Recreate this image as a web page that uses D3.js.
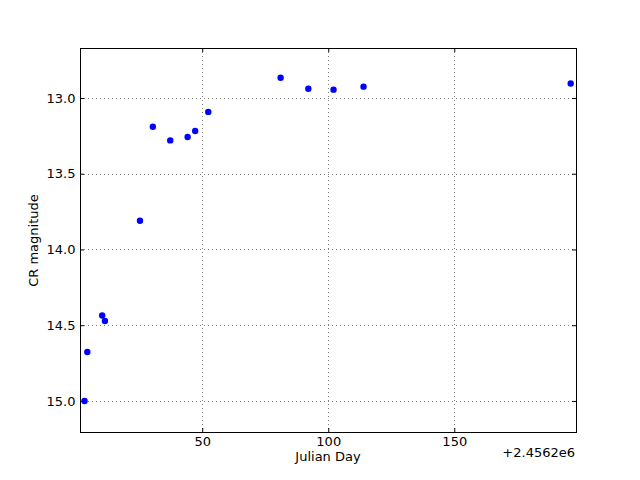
<!DOCTYPE html>
<html><head><meta charset="utf-8">
<script src="https://cdn.jsdelivr.net/npm/d3@7"></script>
<style>body{margin:0;background:#fff}svg{display:block}text{font-family:"DejaVu Sans",sans-serif}</style>
</head><body>
<svg id="c" width="640" height="480"></svg>
<script>
const julianDay = [3.3, 4.4, 10.3, 11.4, 25.3, 30.4, 37.3, 44.2, 47.2, 52.4, 81.1, 92.1, 102.1, 114.0, 196.2];
const crMag = [15.0, 14.677, 14.436, 14.472, 13.81, 13.19, 13.28, 13.258, 13.218, 13.092, 12.866, 12.939, 12.945, 12.925, 12.904];
const xTicks = [50, 100, 150];
const yTicks = [13.0, 13.5, 14.0, 14.5, 15.0];
const xOffsetLabel = "+2.4562e6";

const FS = 13;
const svg = d3.select("#c");
const L = 80, R = 576, T = 48, B = 432;
const x = d3.scaleLinear().domain([1.5, 198.3]).range([L, R]);
const y = d3.scaleLinear().domain([12.67, 15.205]).range([T, B]);

svg.append("rect").attr("width",640).attr("height",480).attr("fill","#fff");

// grid
const g = svg.append("g").attr("stroke","#7f7f7f").attr("stroke-width",1).attr("stroke-dasharray","1,3");
xTicks.forEach(v=>{ const px=Math.round(x(v))+0.5; g.append("line").attr("x1",px).attr("x2",px).attr("y1",T).attr("y2",B); });
yTicks.forEach(v=>{ const py=Math.round(y(v))+0.5; g.append("line").attr("x1",L).attr("x2",R).attr("y1",py).attr("y2",py); });

// points
svg.append("g").selectAll("circle").data(julianDay).join("circle")
  .attr("cx",(d,i)=>x(d)).attr("cy",(d,i)=>y(crMag[i])).attr("r",3.2).attr("fill","#0000ff");

// axes with inward ticks
const xb = d3.axisBottom(x).tickValues(xTicks).tickSizeInner(-4).tickSizeOuter(0).tickPadding(4.5).tickFormat(d3.format("d"));
const xt = d3.axisTop(x).tickValues(xTicks).tickSizeInner(-4).tickSizeOuter(0).tickFormat("");
const yl = d3.axisLeft(y).tickValues(yTicks).tickSizeInner(-4).tickSizeOuter(0).tickPadding(4.5).tickFormat(d3.format(".1f"));
const yr = d3.axisRight(y).tickValues(yTicks).tickSizeInner(-4).tickSizeOuter(0).tickFormat("");
function style(sel){ sel.selectAll("path").remove(); sel.selectAll("line").attr("stroke","#000"); sel.selectAll("text").attr("font-size",FS).attr("fill","#000").attr("font-family","DejaVu Sans"); }
svg.append("g").attr("transform",`translate(0,${B})`).call(xb).call(style);
svg.append("g").attr("transform",`translate(0,${T})`).call(xt).call(style);
svg.append("g").attr("transform",`translate(${L},0)`).call(yl).call(style);
svg.append("g").attr("transform",`translate(${R},0)`).call(yr).call(style);

svg.append("rect").attr("x",L+0.5).attr("y",T+0.5).attr("width",R-L).attr("height",B-T).attr("fill","none").attr("stroke","#000").attr("stroke-width",1);

svg.append("text").attr("x",(L+R)/2).attr("y",461).attr("text-anchor","middle").attr("font-size",FS).text("Julian Day");
svg.append("text").attr("transform","translate(38,240.5) rotate(-90)").attr("text-anchor","middle").attr("font-size",FS).text("CR magnitude");
svg.append("text").attr("x",R-1).attr("y",456.5).attr("text-anchor","end").attr("font-size",FS).text(xOffsetLabel);
</script>
</body></html>
